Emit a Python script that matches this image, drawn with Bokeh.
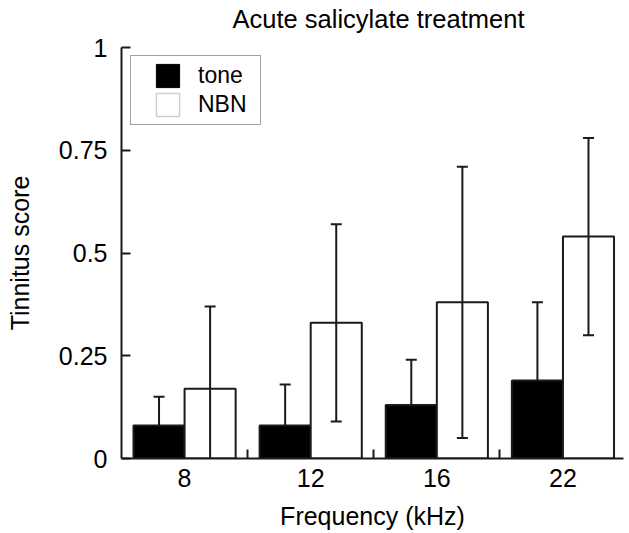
from bokeh.plotting import figure
from bokeh.models import Range1d, FixedTicker, Legend, LegendItem, ColumnDataSource, Title
from bokeh.embed import file_html
from bokeh.resources import INLINE

# ---- data ----
frequencies = ["8", "12", "16", "22"]
tone_mean = [0.08, 0.08, 0.13, 0.19]
tone_err = [0.07, 0.10, 0.11, 0.19]
nbn_mean = [0.17, 0.33, 0.38, 0.54]
nbn_err = [0.20, 0.24, 0.33, 0.24]
y_ticks = [0, 0.25, 0.5, 0.75, 1]
y_tick_labels = ["0", "0.25", "0.5", "0.75", "1"]
series_names = ["tone", "NBN"]
title_text = "Acute salicylate treatment"
x_label = "Frequency (kHz)"
y_label = "Tinnitus score"

FONT = "Liberation Sans"
INK = "#1a1a1a"
BAR_W = 0.405
NAN = float("nan")

n = len(frequencies)
centers = [i + 0.5 for i in range(n)]
tone_x = [c - BAR_W / 2 for c in centers]
nbn_x = [c + BAR_W / 2 for c in centers]

p = figure(width=629, height=533, output_backend="svg", toolbar_location=None,
           x_range=Range1d(0, 3.98), y_range=Range1d(0, 1),
           min_border_left=121, min_border_right=6, min_border_top=47,
           min_border_bottom=75, background_fill_color="white",
           border_fill_color="white")
p.outline_line_color = None
p.xgrid.visible = False
p.ygrid.visible = False

# spacer between frame and title (pushes the title up)
p.add_layout(Title(text=" ", text_font_size="1px", standoff=10), "above")

# title
p.title.text = title_text
p.title.align = "left"
p.title.offset = 111
p.title.vertical_align = "top"
p.title.text_font = FONT
p.title.text_font_size = "25.5px"
p.title.text_font_style = "normal"
p.title.text_color = "black"
p.title.standoff = 0

# bars
tone_src = ColumnDataSource(dict(x=tone_x, top=tone_mean,
                                 up=[m + e for m, e in zip(tone_mean, tone_err)]))
nbn_src = ColumnDataSource(dict(x=nbn_x, top=nbn_mean,
                                up=[m + e for m, e in zip(nbn_mean, nbn_err)],
                                lo=[m - e for m, e in zip(nbn_mean, nbn_err)]))

p.vbar(x="x", top="top", bottom=0, width=BAR_W, source=tone_src,
       fill_color="black", line_color=INK, line_width=2)
p.vbar(x="x", top="top", bottom=0, width=BAR_W, source=nbn_src,
       fill_color="white", line_color=INK, line_width=2)

# error bars
p.segment(x0="x", y0="top", x1="x", y1="up", source=tone_src, line_color=INK, line_width=2)
p.scatter(x="x", y="up", source=tone_src, marker="dash", size=11, line_color=INK, line_width=2)
p.segment(x0="x", y0="lo", x1="x", y1="up", source=nbn_src, line_color=INK, line_width=2)
p.scatter(x="x", y="up", source=nbn_src, marker="dash", size=11, line_color=INK, line_width=2)
p.scatter(x="x", y="lo", source=nbn_src, marker="dash", size=11, line_color=INK, line_width=2)

# axes
xa = p.xaxis[0]
xa.ticker = FixedTicker(ticks=centers, minor_ticks=[i for i in range(1, n)])
xa.major_label_overrides = {c: f for c, f in zip(centers, frequencies)}
xa.major_tick_in = 0
xa.major_tick_out = 0
xa.minor_tick_in = 9
xa.minor_tick_out = 0
xa.minor_tick_line_width = 2
xa.minor_tick_line_color = INK
xa.major_label_standoff = 10
xa.axis_label = x_label
xa.axis_label_standoff = 12

ya = p.yaxis[0]
ya.ticker = FixedTicker(ticks=y_ticks, minor_ticks=[])
ya.major_label_overrides = {t: l for t, l in zip(y_ticks, y_tick_labels)}
ya.major_tick_in = 9
ya.major_tick_out = 0
ya.major_tick_line_width = 2
ya.major_tick_line_color = INK
ya.minor_tick_in = 0
ya.minor_tick_out = 0
ya.major_label_standoff = 14
ya.axis_label = y_label
ya.axis_label_standoff = 22

for ax in (xa, ya):
    ax.axis_line_width = 2
    ax.axis_line_color = INK
    ax.major_label_text_font = FONT
    ax.major_label_text_font_size = "25px"
    ax.major_label_text_color = "black"
    ax.axis_label_text_font = FONT
    ax.axis_label_text_font_size = "25px"
    ax.axis_label_text_font_style = "normal"
    ax.axis_label_text_color = "black"

# legend proxies (no visible data marks)
leg_tone = p.vbar(x=[NAN], top=[NAN], width=BAR_W, fill_color="black",
                  line_color="black", line_width=1)
leg_nbn = p.vbar(x=[NAN], top=[NAN], width=BAR_W, fill_color="white",
                 line_color="#cfcfcf", line_width=1.5)
legend = Legend(items=[LegendItem(label=series_names[0], renderers=[leg_tone]),
                       LegendItem(label=series_names[1], renderers=[leg_nbn])],
                location=(9, 333), padding=5, spacing=0, margin=0,
                title=" ", title_location="left", title_standoff=1,
                title_text_font_size="14px", title_text_font=FONT,
                glyph_width=29, glyph_height=29, label_standoff=16,
                label_width=57,
                label_text_font=FONT, label_text_font_size="23px",
                label_text_color="black", border_line_color="#444444",
                border_line_width=1.5, background_fill_color="white",
                background_fill_alpha=1)
p.add_layout(legend, "center")

open("out.html", "w").write(file_html(p, INLINE))
